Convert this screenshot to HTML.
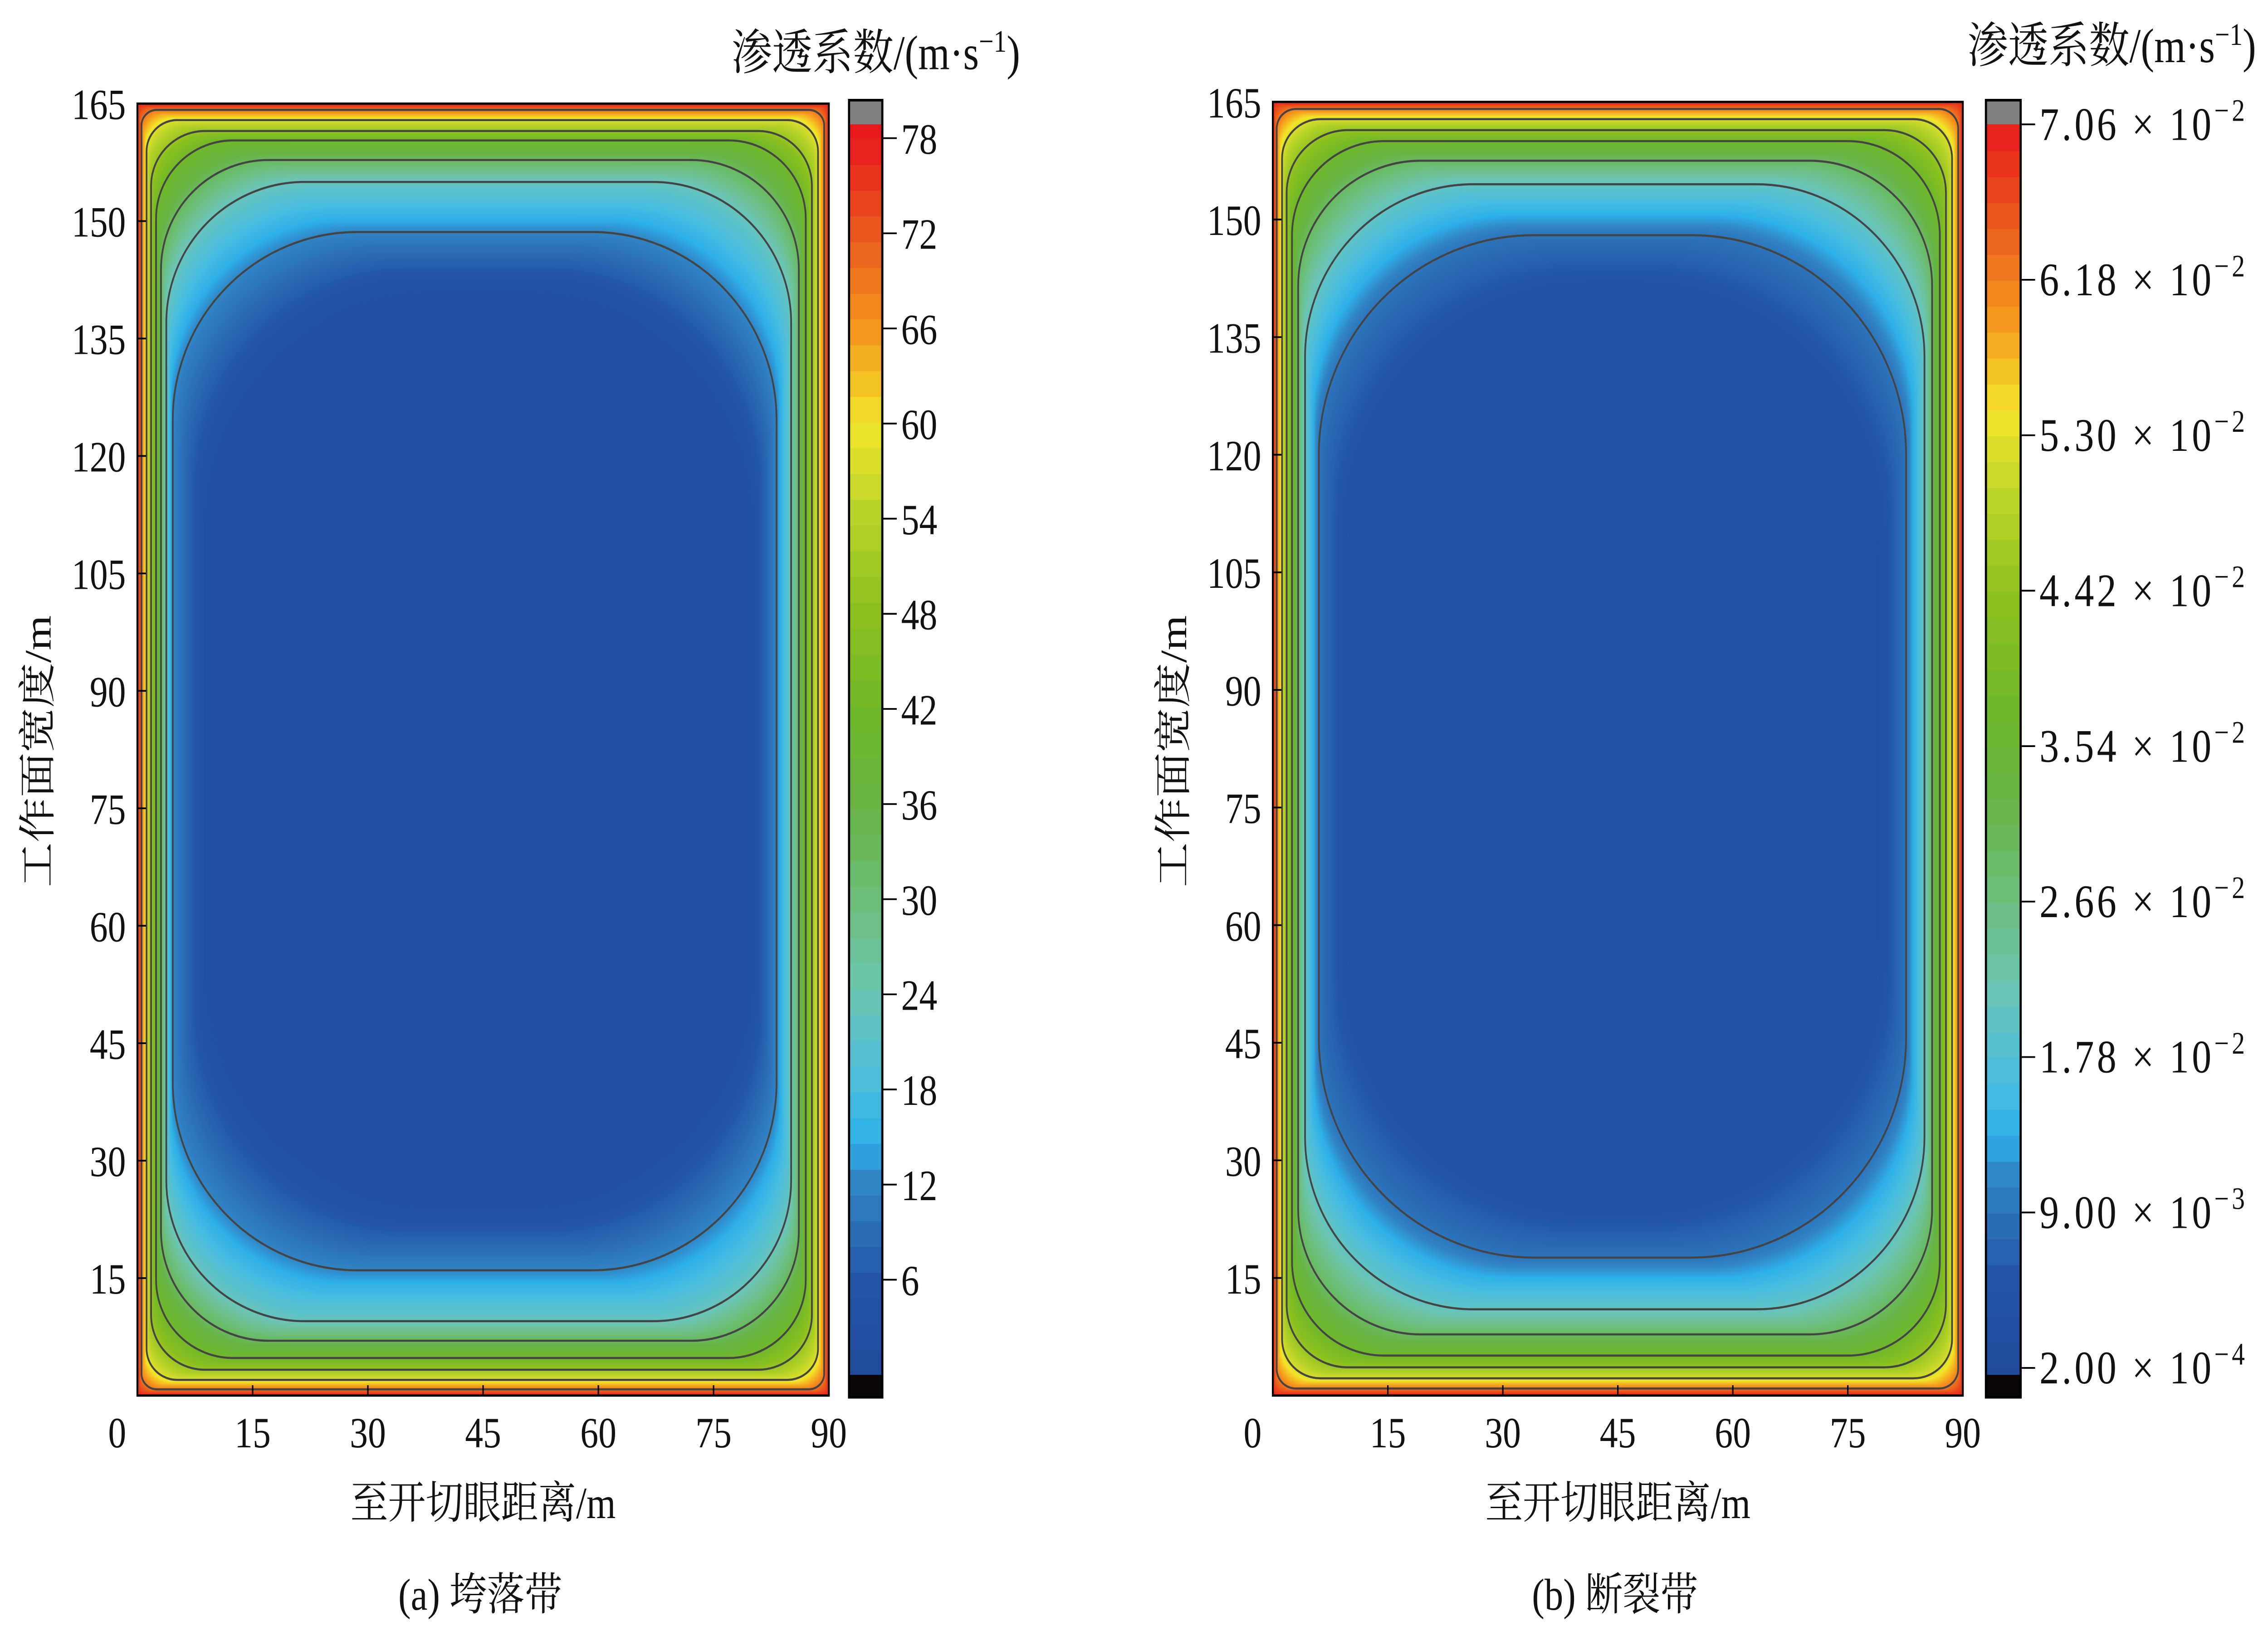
<!DOCTYPE html>
<html><head><meta charset="utf-8"><style>
html,body{margin:0;padding:0;background:#fff;width:100vw;height:100vh;overflow:hidden;}
svg{display:block;width:100vw;height:100vh;}
text{font-family:"Liberation Serif","Noto Serif CJK SC",serif;fill:#111;}
</style></head><body>
<svg id="fig" xmlns="http://www.w3.org/2000/svg" viewBox="0 0 1568 953" preserveAspectRatio="none">
<rect x="0" y="0" width="1568" height="953" fill="#fff"/>
</svg>
<script>
// ---- data: panel (a) 垮落带 ----
const aLevels = [3, 12, 23, 33, 42, 50, 58, 69, 78];
const aInsetLeft = [9, 4.6, 3.76, 3.07, 2.43, 1.78, 1.19, 0.53, 0];
const aInsetRight = [10, 6.8, 4.9, 3.9, 3.0, 2.2, 1.4, 0.6, 0];
const aInsetTop = [24, 16.4, 10, 7.2, 4.7, 3.5, 2.1, 0.8, 0];
const aInsetBottom = [24, 16, 9.5, 7.0, 4.8, 3.3, 2.0, 0.8, 0];
const aRadius = [30, 24, 18, 14, 10, 7, 4, 2, 0];
const aTicks = [6, 12, 18, 24, 30, 36, 42, 48, 54, 60, 66, 72, 78];
const aTickLabels = ["6","12","18","24","30","36","42","48","54","60","66","72","78"];
// ---- data: panel (b) 断裂带 (×10^-2) ----
const bLevels = [0.3, 0.9, 2.0, 2.95, 3.75, 4.5, 5.2, 6.2, 7.06];
const bInsetLeft = [10, 6, 4.2, 3.3, 2.5, 1.8, 1.2, 0.5, 0];
const bInsetRight = [11, 7.4, 5, 4, 3, 2.2, 1.4, 0.6, 0];
const bInsetTop = [25, 17, 10.5, 7.5, 5, 3.6, 2.2, 0.9, 0];
const bInsetBottom = [25, 17.6, 11, 7.8, 5.1, 3.6, 2.2, 0.9, 0];
const bRadius = [34, 28, 22, 16, 12, 8, 5, 2.5, 0];
const bTicks = [0.02, 0.9, 1.78, 2.66, 3.54, 4.42, 5.30, 6.18, 7.06];
const bTickMant = ["2.00","9.00","1.78","2.66","3.54","4.42","5.30","6.18","7.06"];
const bTickExp = ["−4","−3","−2","−2","−2","−2","−2","−2","−2"];
const xTicks = [0, 15, 30, 45, 60, 75, 90];
const yTicks = [15, 30, 45, 60, 75, 90, 105, 120, 135, 150, 165];

const cmap = [[0,"#1f4a9c"],[0.077,"#2356a8"],[0.154,"#3183c4"],[0.19,"#2eb0e8"],[0.231,"#48bde0"],[0.308,"#6cc5b5"],[0.385,"#6cbe78"],[0.462,"#67b443"],[0.538,"#70b82a"],[0.615,"#8bc020"],[0.692,"#b5d22a"],[0.769,"#f2e52a"],[0.846,"#f5961e"],[0.923,"#ea5a1e"],[1,"#e8191c"]];
function hex(c){return [parseInt(c.slice(1,3),16),parseInt(c.slice(3,5),16),parseInt(c.slice(5,7),16)];}
function color(t){t=Math.max(0,Math.min(1,t));
 for(let i=1;i<cmap.length;i++){if(t<=cmap[i][0]){const a=cmap[i-1],b=cmap[i];const f=(t-a[0])/(b[0]-a[0]);const A=hex(a[1]),B=hex(b[1]);
 return "rgb("+A.map((v,k)=>Math.round(v+(B[k]-v)*f)).join(",")+")";}}return cmap[cmap.length-1][1];}
const NS="http://www.w3.org/2000/svg";
const svg=document.getElementById('fig');
function mk(tag,attrs,parent){const e=document.createElementNS(NS,tag);for(const k in attrs)e.setAttribute(k,attrs[k]);(parent||svg).appendChild(e);return e;}
function txt(x,y,s,size,anchor,parent){const t=mk('text',{x:x,y:y,'font-size':size,'text-anchor':anchor||'middle'},parent);t.textContent=s;return t;}

function panel(P){
 const g=mk('g',{});
 
 
 const sx=v=>P.x0+(v/90)*(P.x1-P.x0);
 const sy=v=>P.y1-(v/165)*(P.y1-P.y0);
 const kx=(P.x1-P.x0)/90, ky=(P.y1-P.y0)/165;
 const vmax=P.levels[P.levels.length-1];
 const tOf=v=>v/P.cmax;
 const field=mk('g',{},g);
 
 
 const bg=mk('rect',{x:P.x0,y:P.y0,width:P.x1-P.x0,height:P.y1-P.y0,fill:color(tOf(vmax))},field);
 
 
 function rectAt(L,R,T,B,r){const x=sx(L),y=sy(165-T),w=sx(90-R)-x,h=sy(B)-y;
  return {x:x,y:y,w:w,h:h,rx:Math.min(r*kx,w/2),ry:Math.min(r*ky,h/2)};}
 const steps=60;
 for(let i=P.levels.length-1;i>0;i--){
  for(let s=0;s<steps;s++){const f=s/steps;
   const lerp=a=>a[i]+(a[i-1]-a[i])*f;
   const v=lerp(P.levels);
   const q=rectAt(lerp(P.L),lerp(P.R),lerp(P.T),lerp(P.B),lerp(P.rad));
   const band=mk('rect',{x:q.x,y:q.y,width:q.w,height:q.h,rx:q.rx,ry:q.ry,fill:color(tOf(v))},field);
   
   
  }
 }
 const core=rectAt(P.L[0],P.R[0],P.T[0],P.B[0],P.rad[0]);
 const cr=mk('rect',{x:core.x,y:core.y,width:core.w,height:core.h,rx:core.rx,ry:core.ry,fill:color(tOf(P.levels[0]))},field);
 
 
 for(let i=1;i<P.levels.length-1;i++){
  const q=rectAt(P.L[i],P.R[i],P.T[i],P.B[i],P.rad[i]);
  const ln=mk('rect',{x:q.x,y:q.y,width:q.w,height:q.h,rx:q.rx,ry:q.ry,fill:'none',stroke:'#444','stroke-width':1.2},field);
  
  
 }
 const fr=mk('rect',{x:P.x0,y:P.y0,width:P.x1-P.x0,height:P.y1-P.y0,fill:'none',stroke:'#000','stroke-width':1.3},g);
 
 
 xTicks.forEach(v=>{
  const tk=mk('line',{x1:sx(v),x2:sx(v),y1:P.y1,y2:P.y1-6,stroke:'#000','stroke-width':1},g);
  
  
  const lb=txt(v===0?sx(v)-14:sx(v),P.y1+30,String(v),25,'middle',g);
  
  
 });
 yTicks.forEach(v=>{
  const tk=mk('line',{x1:P.x0,x2:P.x0+6,y1:sy(v),y2:sy(v),stroke:'#000','stroke-width':1},g);
  
  
  const lb=txt(P.x0-8,sy(v)+9,String(v),25,'end',g);
  
  
 });
 const xt=txt((P.x0+P.x1)/2,879,'至开切眼距离/m',26,'middle',g);
 
 
 const yt=txt(0,0,'工作面宽度/m',26,'middle',g);
 yt.setAttribute('transform','translate('+(P.x0-60)+',435) rotate(-90)');
 
 
 const cap=txt((P.x0+P.x1)/2-2,932,P.caption,26,'middle',g);
 
 
 // colorbar
 const cb=mk('g',{},g);
 
 
 const cy0=P.cbTop, cy1=P.cbBot;
 const cyv=v=>P.cbZeroY-(v-P.cbMin)/(P.cbMaxV-P.cbMin)*(P.cbZeroY-P.cbMaxY);
 const cbg=mk('rect',{x:P.cbx,y:cy0,width:P.cbw,height:cy1-cy0,fill:color(1)},cb);
 
 
 const cbl=mk('rect',{x:P.cbx,y:cyv(P.cbMin)-1,width:P.cbw,height:Math.max(0,cy1-cyv(P.cbMin)+1),fill:color(0)},cb);
 
 
 const nb=48;
 for(let i=0;i<nb;i++){const v0=P.cbMin+(P.cmax-P.cbMin)*i/nb,v1=P.cbMin+(P.cmax-P.cbMin)*(i+1)/nb;
  const y0=Math.min(cyv(v1),cy1-13),y1=Math.min(cyv(v0),cy1-13);
  const b=mk('rect',{x:P.cbx,y:Math.max(y0,cy0+14),width:P.cbw,height:Math.max(0,y1-Math.max(y0,cy0+14))+0.6,fill:color((v0+v1)/2/P.cmax)},cb);
  
  
 }
 const gr=mk('rect',{x:P.cbx,y:cy0,width:P.cbw,height:14,fill:'#808080'},cb);
 
 
 const bk=mk('rect',{x:P.cbx,y:cy1-13,width:P.cbw,height:13,fill:'#0a0606'},cb);
 
 
 const cbf=mk('rect',{x:P.cbx,y:cy0,width:P.cbw,height:cy1-cy0,fill:'none',stroke:'#000','stroke-width':1.5},cb);
 
 
 P.ticks.forEach((v,i)=>{const y=cyv(v);
  const tk=mk('line',{x1:P.cbx+P.cbw,x2:P.cbx+P.cbw+10,y1:y,y2:y,stroke:'#000','stroke-width':1},cb);
  
  
  const t=mk('text',{x:P.cbx+P.cbw+13,y:y+9,'font-size':P.exp?27:25,'text-anchor':'start'},cb);
  
  
  if(P.exp){t.textContent=P.labels[i]+' × 10';const sp=mk('tspan',{dy:-11,'font-size':18},t);sp.textContent=P.exp[i];
   t.setAttribute('textLength',142);t.setAttribute('lengthAdjust','spacing');}
  else t.textContent=P.labels[i];
 });
 const ut=mk('text',{x:P.cbx+P.cbw/2+P.titleDx,y:P.titleY,'font-size':28,'text-anchor':'middle'},g);
 
 
 ut.textContent='渗透系数/(m·s';
 const sp=mk('tspan',{dy:-10,'font-size':18},ut);sp.textContent='−1';
 const sp2=mk('tspan',{dy:10},ut);sp2.textContent=')';
}
panel({name:'panel-a-caving-zone',x0:95,x1:573,y0:60,y1:808,levels:aLevels,L:aInsetLeft,R:aInsetRight,T:aInsetTop,B:aInsetBottom,rad:aRadius,cmax:78,
 caption:'(a)  垮落带',cbx:587,cbw:23,cbTop:58,cbBot:809,cbMin:0,cbMaxV:78,cbZeroY:796,cbMaxY:80,ticks:aTicks,labels:aTickLabels,exp:null,titleDx:7,titleY:40});
panel({name:'panel-b-fracture-zone',x0:880,x1:1357,y0:59,y1:808,levels:bLevels,L:bInsetLeft,R:bInsetRight,T:bInsetTop,B:bInsetBottom,rad:bRadius,cmax:7.06,
 caption:'(b)  断裂带',cbx:1373,cbw:24,cbTop:58,cbBot:809,cbMin:0.02,cbMaxV:7.06,cbZeroY:792,cbMaxY:72,ticks:bTicks,labels:bTickMant,exp:bTickExp,titleDx:75,titleY:36});
</script>
</body></html>
